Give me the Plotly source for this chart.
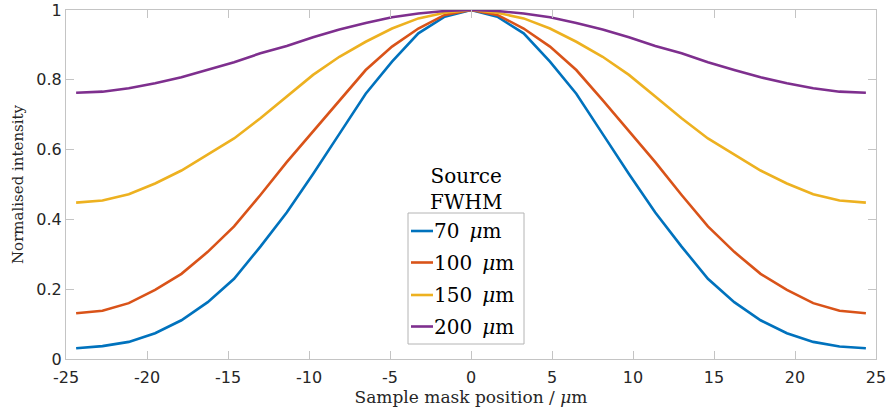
import plotly.graph_objects as go

# Sample mask positions (µm)
positions = [-24.375, -22.75, -21.125, -19.5, -17.875, -16.25, -14.625, -13.0,
             -11.375, -9.75, -8.125, -6.5, -4.875, -3.25, -1.625, 0.0,
             1.625, 3.25, 4.875, 6.5, 8.125, 9.75, 11.375, 13.0,
             14.625, 16.25, 17.875, 19.5, 21.125, 22.75, 24.375]

# Normalised intensity for each source FWHM
fwhm_70 = [0.031, 0.037, 0.049, 0.074, 0.111, 0.163, 0.230, 0.322,
           0.420, 0.530, 0.645, 0.760, 0.852, 0.933, 0.981, 1.000,
           0.981, 0.933, 0.852, 0.760, 0.645, 0.530, 0.420, 0.322,
           0.230, 0.163, 0.111, 0.074, 0.049, 0.036, 0.031]
fwhm_100 = [0.131, 0.138, 0.160, 0.198, 0.244, 0.307, 0.380, 0.470,
            0.564, 0.652, 0.742, 0.828, 0.895, 0.947, 0.986, 1.000,
            0.986, 0.947, 0.895, 0.828, 0.742, 0.652, 0.564, 0.470,
            0.380, 0.307, 0.244, 0.198, 0.160, 0.138, 0.131]
fwhm_150 = [0.448, 0.454, 0.472, 0.503, 0.540, 0.585, 0.632, 0.690,
            0.752, 0.814, 0.866, 0.909, 0.947, 0.976, 0.992, 1.000,
            0.992, 0.976, 0.947, 0.909, 0.866, 0.814, 0.752, 0.690,
            0.632, 0.585, 0.540, 0.503, 0.472, 0.454, 0.448]
fwhm_200 = [0.763, 0.766, 0.776, 0.790, 0.807, 0.828, 0.850, 0.876,
            0.897, 0.922, 0.944, 0.963, 0.979, 0.990, 0.997, 1.000,
            0.997, 0.990, 0.979, 0.963, 0.944, 0.922, 0.897, 0.876,
            0.850, 0.828, 0.807, 0.790, 0.776, 0.766, 0.763]

series_names = ["70\u2002<i>μ</i>m", "100\u2002<i>μ</i>m", "150\u2002<i>μ</i>m", "200\u2002<i>μ</i>m"]
series_values = [fwhm_70, fwhm_100, fwhm_150, fwhm_200]
colors = ["#0072BD", "#D95319", "#EDB120", "#7E2F8E"]

x_tick_vals = [-25, -20, -15, -10, -5, 0, 5, 10, 15, 20, 25]
x_tick_text = ["-25", "-20", "-15", "-10", "-5", "0", "5", "10", "15", "20", "25"]
y_tick_vals = [0, 0.2, 0.4, 0.6, 0.8, 1]
y_tick_text = ["0", "0.2", "0.4", "0.6", "0.8", "1"]

W, H = 887, 412
ML, MR, MT, MB = 66, 11, 10, 53
PW, PH = W - ML - MR, H - MT - MB


def px(xp):
    """Pixel column -> paper x."""
    return (xp - ML) / PW


def py(yp):
    """Pixel row -> paper y."""
    return (H - MB - yp) / PH


fig = go.Figure()
for name, vals, col in zip(series_names, series_values, colors):
    fig.add_trace(go.Scatter(x=positions, y=vals, mode="lines", name=name,
                             line=dict(color=col, width=2.6), showlegend=False))

axis_common = dict(
    showgrid=False, zeroline=False, showline=True, mirror="ticks",
    linecolor="#c4c4c4", linewidth=1, ticks="inside", ticklen=8,
    tickcolor="#c4c4c4", tickwidth=1, automargin=False,
    tickfont=dict(family="DejaVu Sans", size=16, color="#262626"),
)

# Legend box with its title above it
box_l, box_r, box_t, box_b = 408, 524, 213, 344
shapes = [dict(type="rect", xref="paper", yref="paper",
               x0=px(box_l), x1=px(box_r), y0=py(box_b), y1=py(box_t),
               line=dict(color="#b4b4b4", width=1), fillcolor="white", layer="above")]
annotations = [dict(text="Source<br>FWHM", x=px(466), y=py(box_t) - 0.008,
                    xref="paper", yref="paper", xanchor="center", yanchor="bottom",
                    showarrow=False,
                    font=dict(family="DejaVu Serif", size=20, color="black"))]
row_y = [231, 262.5, 295, 326.5]
for name, col, ry in zip(series_names, colors, row_y):
    shapes.append(dict(type="line", xref="paper", yref="paper",
                       x0=px(411), x1=px(433), y0=py(ry), y1=py(ry),
                       line=dict(color=col, width=2.6), layer="above"))
    annotations.append(dict(text=name, x=px(432), y=py(ry), xref="paper", yref="paper",
                            xanchor="left", yanchor="middle", showarrow=False,
                            font=dict(family="DejaVu Serif", size=20, color="black")))

fig.update_layout(
    width=W, height=H,
    margin=dict(l=ML, r=MR, t=MT, b=MB),
    paper_bgcolor="white", plot_bgcolor="white",
    xaxis=dict(range=[-25, 25], tickvals=x_tick_vals, ticktext=x_tick_text,
               ticklabelstandoff=4,
               title=dict(text="Sample mask position / <i>μ</i>m", standoff=3,
                          font=dict(family="DejaVu Serif", size=17, color="#262626")),
               **axis_common),
    yaxis=dict(range=[0, 1], tickvals=y_tick_vals, ticktext=y_tick_text,
               title=dict(text="Normalised intensity", standoff=9,
                          font=dict(family="DejaVu Serif", size=15, color="#262626")),
               **axis_common),
    showlegend=False,
    shapes=shapes,
    annotations=annotations,
)

fig.write_html("out.html")
